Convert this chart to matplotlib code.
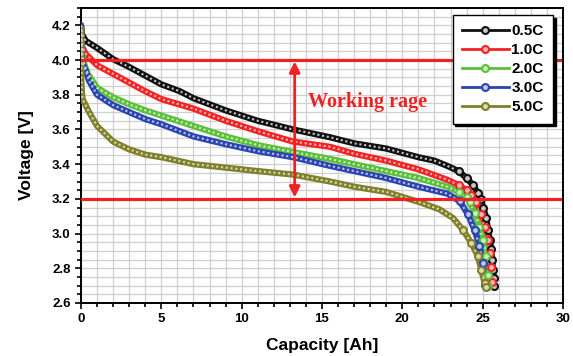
import matplotlib
matplotlib.use("Agg")
import matplotlib.pyplot as plt
from matplotlib.lines import Line2D
from matplotlib.ticker import MultipleLocator

# discharge curves (capacity in Ah, voltage in V)
cap_05 = [0, 0.05, 0.3, 1, 2, 3, 4, 5, 6.16, 7, 9, 11, 13.2, 15.5, 17, 19, 21, 22, 22.8,
          23.5, 24.0, 24.4, 24.7, 24.92, 25.02, 25.23, 25.33, 25.43, 25.54, 25.6, 25.64,
          25.68, 25.7]
volt_05 = [4.20, 4.15, 4.11, 4.07, 4.005, 3.96, 3.91, 3.86, 3.82, 3.78, 3.71, 3.65, 3.60,
           3.555, 3.52, 3.49, 3.44, 3.42, 3.39, 3.36, 3.32, 3.28, 3.235, 3.197, 3.15, 3.09,
           3.02, 2.965, 2.91, 2.85, 2.79, 2.745, 2.70]

cap_10 = [0, 0.05, 0.3, 1, 2, 3, 4, 5, 7, 9, 11, 13.2, 15.5, 17, 19, 21, 22.8, 23.5,
          24.0, 24.3, 24.6, 24.92, 25.12, 25.33, 25.43, 25.54, 25.58]
volt_10 = [4.20, 4.08, 4.035, 3.97, 3.92, 3.87, 3.82, 3.775, 3.72, 3.65, 3.59, 3.53, 3.50,
           3.46, 3.42, 3.37, 3.31, 3.28, 3.25, 3.22, 3.18, 3.11, 3.04, 2.965, 2.89, 2.81,
           2.72]

cap_20 = [0, 0.05, 0.15, 0.43, 1, 2, 3, 4, 5, 7, 9, 11, 13.2, 15.5, 17, 19, 21, 22.8,
          23.5, 24.0, 24.2, 24.5, 24.8, 25.02, 25.23, 25.33, 25.36]
volt_20 = [4.18, 4.05, 3.99, 3.92, 3.84, 3.785, 3.745, 3.71, 3.68, 3.62, 3.56, 3.51, 3.47,
           3.43, 3.40, 3.36, 3.32, 3.27, 3.24, 3.21, 3.18, 3.12, 3.04, 2.965, 2.87, 2.76,
           2.70]

cap_30 = [0, 0.05, 0.25, 0.5, 1, 2, 3, 4, 5, 7, 9, 11, 13.2, 15.5, 17, 19, 21, 22.8,
          23.57, 24.09, 24.5, 24.8, 25.02, 25.12]
volt_30 = [4.20, 3.99, 3.95, 3.88, 3.80, 3.74, 3.70, 3.66, 3.63, 3.56, 3.515, 3.475, 3.44,
           3.39, 3.36, 3.32, 3.27, 3.23, 3.187, 3.11, 3.02, 2.93, 2.83, 2.705]

cap_50 = [0, 0.02, 0.05, 0.1, 0.5, 1, 2, 3, 4, 5, 7, 9, 11, 13.2, 15.5, 17, 19, 21.1,
          22.3, 23.15, 23.78, 24.3, 24.7, 24.92, 25.12, 25.2]
volt_50 = [4.18, 3.89, 3.82, 3.775, 3.70, 3.62, 3.53, 3.485, 3.455, 3.44, 3.40, 3.38, 3.36,
           3.34, 3.30, 3.27, 3.24, 3.18, 3.14, 3.09, 3.02, 2.945, 2.87, 2.79, 2.715, 2.69]

labels = ["0.5C", "1.0C", "2.0C", "3.0C", "5.0C"]
colors = ["#111111", "#f02424", "#5cbf3c", "#2c44ad", "#7f7f2e"]
lights = ["#c8c8c8", "#ffb8b8", "#ccf2b8", "#bcc8f2", "#dcdcaa"]
limits = [3.2, 4.0]  # working range
red = "#ee2222"

fig = plt.figure(figsize=(5.73, 3.56), dpi=100)
ax = fig.add_axes([0.1414, 0.149, 0.8411, 0.8285])

series = [(cap_05, volt_05), (cap_10, volt_10), (cap_20, volt_20),
          (cap_30, volt_30), (cap_50, volt_50)]
for (x, y), c, lc in zip(series, colors, lights):
    ax.plot(x, y, color=c, lw=4.5, solid_capstyle="round", solid_joinstyle="round", zorder=3)
    ax.plot(x, y, color=lc, lw=1.5, ls=(0, (1, 1.3)), zorder=4)
    tail = [i for i, v in enumerate(x) if v >= 23.5]
    ax.plot([x[i] for i in tail], [y[i] for i in tail], ls="none", marker="o", ms=5,
            mfc=lc, mec=c, mew=1.5, zorder=5)

for v in limits:
    ax.plot([0, 29.8], [v, v], color=red, lw=2.3, zorder=6)

ax.annotate("", xy=(13.3, limits[1]), xytext=(13.3, limits[0]),
            arrowprops=dict(arrowstyle="<|-|>", color=red, lw=2,
                            mutation_scale=16, shrinkA=1, shrinkB=1), zorder=7)
ax.text(14.1, 3.757, "Working rage", color=red, fontsize=14.5, fontweight="bold",
        family="Liberation Serif", va="center", ha="left", zorder=7)

ax.set_xlim(0, 30)
ax.set_ylim(2.6, 4.3)
ax.xaxis.set_major_locator(MultipleLocator(5))
ax.xaxis.set_minor_locator(MultipleLocator(1))
ax.yaxis.set_major_locator(MultipleLocator(0.2))
ax.yaxis.set_minor_locator(MultipleLocator(0.05))
ax.grid(which="both", color="#cfcfcf", lw=0.9, zorder=0)
ax.set_axisbelow(True)
for s in ax.spines.values():
    s.set_linewidth(1.4)
ax.tick_params(which="both", direction="out", width=1.2, labelsize=9.5)
ax.tick_params(which="major", length=4)
ax.tick_params(which="minor", length=3)
for lab in ax.get_xticklabels() + ax.get_yticklabels():
    lab.set_fontweight("bold")
    lab.set_family("Liberation Sans")
ax.set_xlabel("Capacity [Ah]", fontsize=12.5, fontweight="bold", family="Liberation Sans",
              labelpad=9)
ax.set_ylabel("Voltage [V]", fontsize=12.5, fontweight="bold", family="Liberation Sans",
              labelpad=13)

handles = [Line2D([], [], color=c, lw=2, marker="o", ms=5, mfc=lc, mec=c, mew=1.5)
           for c, lc in zip(colors, lights)]
leg = ax.legend(handles, labels, loc="upper right", bbox_to_anchor=(0.979, 0.976),
                fancybox=False, framealpha=1, edgecolor="black", handlelength=3.1,
                labelspacing=0.33, borderpad=0.6, handletextpad=0.15, borderaxespad=0,
                prop={"family": "Liberation Sans", "weight": "bold", "size": 11},
                shadow={"color": "black", "alpha": 1})
leg.get_frame().set_linewidth(1.0)
leg.set_zorder(10)

fig.savefig("out.png", dpi=100)
